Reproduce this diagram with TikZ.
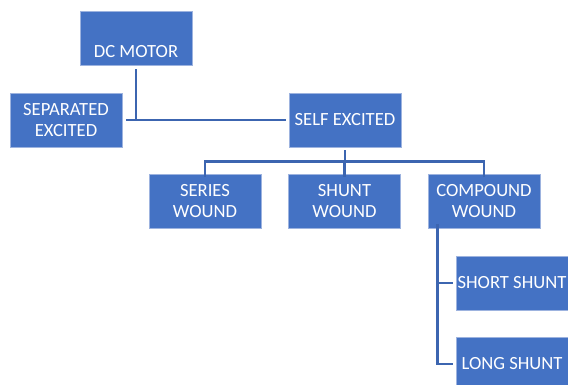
\documentclass[tikz,border=0pt]{standalone}
\usepackage{fontspec}
\setmainfont{Carlito}
\usetikzlibrary{calc}
\definecolor{boxfill}{HTML}{4472C4}
\definecolor{boxedge}{HTML}{9DB3DF}
\definecolor{conncol}{HTML}{3C65B0}
\tikzset{
  box/.style={rectangle, fill=boxfill, draw=boxedge, line width=0.6pt,
    minimum width=112pt, minimum height=54pt, inner sep=0pt,
    text=white, align=center, font=\fontsize{18.6}{21.5}\selectfont},
  lbl/.style={text=white, inner sep=0pt, font=\fontsize{18.6}{21.5}\selectfont},
  conn/.style={draw=conncol, line width=2.6pt}
}
\begin{document}
\begin{tikzpicture}[x=1pt,y=-1pt]
\useasboundingbox (0,0) rectangle (568,385);
\clip (0,0) rectangle (568,385);
\node[box] (dc) at (136,38) {};
\node[lbl] (dctext) at (136,52) {DC MOTOR};
\node[box] (sep) at (66,120) {SEPARATED\\EXCITED};
\node[box] (self) at (345,120) {SELF EXCITED};
\node[box] (series) at (205,201) {SERIES\\WOUND};
\node[box] (shunt) at (344.5,201) {SHUNT\\WOUND};
\node[box] (comp) at (484,201) {COMPOUND\\WOUND};
\node[box] (short) at (512,283) {SHORT SHUNT};
\node[box] (long) at (512,364) {LONG SHUNT};
% connectors
\draw[conn] ([yshift=-4pt]dc.south) -- (dc.south |- sep.east);
\draw[conn] ([xshift=4pt]sep.east) -- ([xshift=-3pt]self.west);
\coordinate (bus) at ($(self.south)+(0,14)$);
\draw[conn] ([yshift=-3pt]self.south) -- (bus);
\draw[conn] ([yshift=-3pt]series.north) -- (series.north |- bus) -- (comp.north |- bus) -- ([yshift=-3pt]comp.north);
\draw[conn] (shunt.north |- bus) -- ([yshift=-3pt]shunt.north);
\coordinate (cv) at ($(comp.south west)+(10,0)$);
\draw[conn] ([yshift=4pt]cv) -- (cv |- long.west) -- ([xshift=-3pt]long.west);
\draw[conn] (cv |- short.west) -- ([xshift=-3pt]short.west);
\end{tikzpicture}
\end{document}
